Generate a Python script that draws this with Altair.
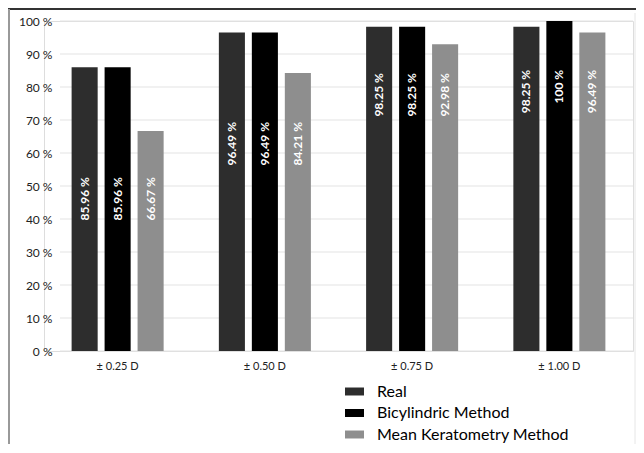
import altair as alt
import pandas as pd

categories = ["± 0.25 D", "± 0.50 D", "± 0.75 D", "± 1.00 D"]
series = ["Real", "Bicylindric Method", "Mean Keratometry Method"]
real = [85.96, 96.49, 98.25, 98.25]
bicylindric = [85.96, 96.49, 98.25, 100]
mean_kerato = [66.67, 84.21, 92.98, 96.49]
y_ticks = [0, 10, 20, 30, 40, 50, 60, 70, 80, 90, 100]
colors = ["#2d2d2d", "#000000", "#8e8e8e"]

# level (in %) where the rotated value labels end, per category
label_level = [52.7, 69.4, 84.2, 85.2]

rows = []
for s, vals in zip(series, [real, bicylindric, mean_kerato]):
    for c, v, lv in zip(categories, vals, label_level):
        rows.append({"cat": c, "series": s, "value": v,
                     "label": f"{v:g} %", "lv": lv})
df = pd.DataFrame(rows)

W, H = 589, 330
FONT = "Lato"

x_enc = alt.X("cat:N", sort=categories,
              scale=alt.Scale(paddingInner=0.328, paddingOuter=0.164),
              axis=alt.Axis(title=None, labelAngle=0, domain=False, ticks=False,
                            labelPadding=9, labelFontSize=11, labelColor="#222",
                            labelFont=FONT))
xo_enc = alt.XOffset("series:N", sort=series,
                     scale=alt.Scale(paddingInner=0.21, paddingOuter=0.105))
y_scale = alt.Scale(domain=[0, 100], nice=False)

grid = alt.Chart(pd.DataFrame({"t": y_ticks})).mark_rule(
    color="#e3e3e3", strokeWidth=1).encode(
    y=alt.Y("t:Q", scale=y_scale,
            axis=alt.Axis(title=None, grid=False, domain=False, ticks=False,
                          values=y_ticks, labelExpr="datum.value + ' %'",
                          labelOverlap=False, tickCount=11,
                          offset=-16, labelPadding=8, labelFontSize=12,
                          labelColor="#222", labelFont=FONT)),
    x=alt.value(16), x2=alt.value(W))

bars = alt.Chart(df).mark_bar().encode(
    x=x_enc, xOffset=xo_enc,
    y=alt.Y("value:Q", scale=y_scale),
    color=alt.Color("series:N", sort=series,
                    scale=alt.Scale(domain=series, range=colors),
                    legend=alt.Legend(title=None, orient="none", legendX=301,
                                      legendY=361, direction="vertical",
                                      symbolType="M-1,-0.42L1,-0.42L1,0.42L-1,0.42Z",
                                      symbolSize=361, symbolStrokeWidth=0,
                                      labelFontSize=16, labelFont=FONT,
                                      labelColor="#000", labelOffset=13,
                                      labelLimit=0, rowPadding=3.5)))

labels = alt.Chart(df).mark_text(angle=270, align="right", baseline="middle",
                                 color="white", fontWeight="bold", fontSize=12,
                                 font=FONT).encode(
    x=x_enc, xOffset=xo_enc,
    y=alt.Y("lv:Q", scale=y_scale),
    text="label:N")

one = alt.Data(values=[{}])
frame_top = alt.Chart(one).mark_rule(color="#333", strokeWidth=2).encode(
    x=alt.value(-36), x2=alt.value(W + 3), y=alt.value(-12))
frame_left = alt.Chart(one).mark_rule(color="#999", strokeWidth=2).encode(
    x=alt.value(-35), y=alt.value(-12), y2=alt.value(H + 95))
frame_right = alt.Chart(one).mark_rule(color="#e6e6e6", strokeWidth=1).encode(
    x=alt.value(W + 2), y=alt.value(-8), y2=alt.value(H + 95))

chart = alt.layer(grid, bars, labels, frame_top, frame_left, frame_right).properties(
    width=W, height=H,
    autosize=alt.AutoSizeParams(type="none"),
    padding={"left": 36, "top": 13, "right": 3, "bottom": 93},
).configure_view(stroke=None).configure(background="white")

chart.save("out.html", embed_options={"renderer": "svg", "actions": False})
